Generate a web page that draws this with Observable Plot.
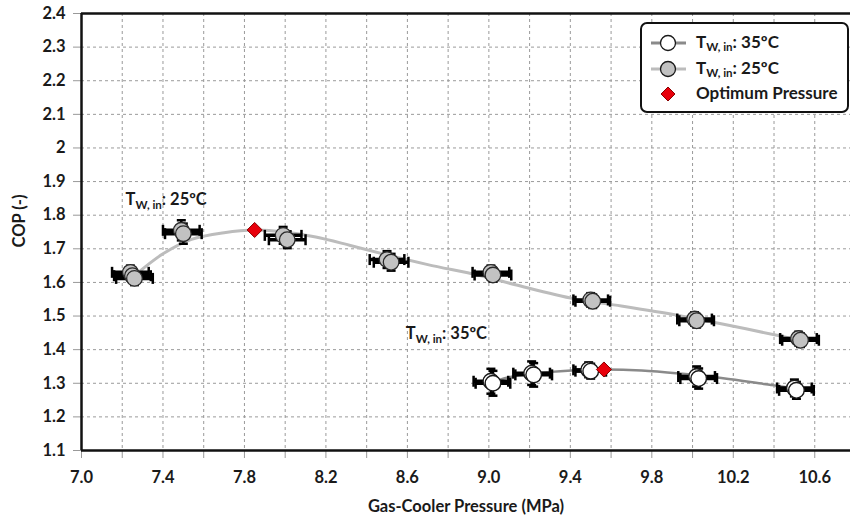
<!DOCTYPE html>
<html>
<head>
<meta charset="utf-8">
<script src="https://cdn.jsdelivr.net/npm/d3@7"></script>
<script src="https://cdn.jsdelivr.net/npm/@observablehq/plot@0.6"></script>
<style>
  html, body { margin: 0; padding: 0; background: #fff; }
  #wrap { position: relative; width: 850px; height: 524px; font-family: Lato, "Open Sans", sans-serif; }
  #legend { position: absolute; left: 640px; top: 22px; width: 205px; height: 87px; border: 2px solid #111; border-radius: 7px; background: #fff; }
  .row { position: absolute; left: 0; height: 24px; width: 205px; }
  .row svg { position: absolute; left: 8px; top: 0; }
  .row span { position: absolute; left: 54px; top: 0px; font-size: 17px; font-weight: 700; color: #1a1a1a; white-space: nowrap; }
  .row sub { font-size: 11.5px; vertical-align: -3px; line-height: 0; }
</style>
</head>
<body>
<div id="wrap">
  <div id="chart"></div>
  <div id="legend"></div>
</div>
<script>
// ---- Data ----
// T_W,in = 25 ºC measured points (overlapping repeats)
const p25x  = [7.24, 7.25, 7.26, 7.49, 7.50, 7.99, 8.01, 8.50, 8.52, 9.01, 9.02, 9.50, 9.51, 10.01, 10.02, 10.52, 10.53];
const p25y  = [1.630, 1.620, 1.612, 1.755, 1.745, 1.740, 1.727, 1.668, 1.660, 1.630, 1.622, 1.548, 1.544, 1.491, 1.486, 1.433, 1.428];
const p25ex = [0.09, 0.09, 0.09, 0.09, 0.09, 0.09, 0.09, 0.085, 0.085, 0.09, 0.09, 0.085, 0.085, 0.085, 0.085, 0.09, 0.09];
const p25ey = [0.02, 0.02, 0.02, 0.03, 0.03, 0.025, 0.025, 0.025, 0.025, 0.02, 0.02, 0.02, 0.02, 0.02, 0.02, 0.02, 0.02];

// T_W,in = 35 ºC measured points
const p35x  = [9.01, 9.02, 9.21, 9.22, 9.49, 9.50, 10.02, 10.03, 10.50, 10.51];
const p35y  = [1.306, 1.300, 1.330, 1.325, 1.340, 1.336, 1.320, 1.314, 1.286, 1.279];
const p35ex = [0.085, 0.085, 0.09, 0.09, 0.075, 0.075, 0.09, 0.09, 0.085, 0.085];
const p35ey = [0.037, 0.037, 0.035, 0.035, 0.022, 0.022, 0.03, 0.03, 0.025, 0.025];

// fitted trend curves
const c25x = [7.27, 7.40, 7.54, 7.70, 7.85, 8.00, 8.15, 8.32, 8.50, 8.70, 8.95, 9.13, 9.42, 9.65, 9.93, 10.14, 10.42, 10.55];
const c25y = [1.625, 1.685, 1.728, 1.748, 1.756, 1.750, 1.735, 1.710, 1.682, 1.653, 1.621, 1.593, 1.551, 1.530, 1.502, 1.477, 1.442, 1.425];
const c35x = [9.05, 9.10, 9.20, 9.35, 9.55, 9.75, 9.95, 10.15, 10.35, 10.50, 10.55];
const c35y = [1.310, 1.318, 1.328, 1.336, 1.341, 1.338, 1.328, 1.315, 1.298, 1.285, 1.279];

// optimum pressure points
const optX = [7.85, 9.565];
const optY = [1.756, 1.341];

// in-plot labels
const annX = [7.216, 8.592];
const annY = [1.847, 1.448];
const annText = ["T|W, in|: 25ºC", "T|W, in|: 35ºC"];

// axis ticks
const xGrid   = [7.0, 7.2, 7.4, 7.6, 7.8, 8.0, 8.2, 8.4, 8.6, 8.8, 9.0, 9.2, 9.4, 9.6, 9.8, 10.0, 10.2, 10.4, 10.6, 10.8];
const xLabels = [7.0, 7.4, 7.8, 8.2, 8.6, 9.0, 9.4, 9.8, 10.2, 10.6];
const yTicks  = [1.1, 1.2, 1.3, 1.4, 1.5, 1.6, 1.7, 1.8, 1.9, 2.0, 2.1, 2.2, 2.3, 2.4];

// ---- Build tables ----
const pts25 = p25x.map((x, i) => ({x, y: p25y[i], ex: p25ex[i], ey: p25ey[i]}));
const pts35 = p35x.map((x, i) => ({x, y: p35y[i], ex: p35ex[i], ey: p35ey[i]}));
const curve25 = c25x.map((x, i) => ({x, y: c25y[i]}));
const curve35 = c35x.map((x, i) => ({x, y: c35y[i]}));
const opt = optX.map((x, i) => ({x, y: optY[i]}));
const ann = annX.map((x, i) => ({x, y: annY[i], t: annText[i]}));

const vLine = { draw(ctx, size) { const r = Math.sqrt(size / Math.PI); ctx.moveTo(0, -r); ctx.lineTo(0, r); } };
const hLine = { draw(ctx, size) { const r = Math.sqrt(size / Math.PI); ctx.moveTo(-r, 0); ctx.lineTo(r, 0); } };

function errorMarks(data) {
  return [
    Plot.link(data, {x1: d => d.x - d.ex, x2: d => d.x + d.ex, y1: "y", y2: "y", stroke: "#000", strokeWidth: 3.5}),
    Plot.dot(data, {x: d => d.x - d.ex, y: "y", symbol: vLine, r: 5.5, stroke: "#000", strokeWidth: 2.5, fill: "none"}),
    Plot.dot(data, {x: d => d.x + d.ex, y: "y", symbol: vLine, r: 5.5, stroke: "#000", strokeWidth: 2.5, fill: "none"}),
    Plot.link(data, {x1: "x", x2: "x", y1: d => d.y - d.ey, y2: d => d.y + d.ey, stroke: "#000", strokeWidth: 2.5}),
    Plot.dot(data, {x: "x", y: d => d.y - d.ey, symbol: hLine, r: 4.5, stroke: "#000", strokeWidth: 2.5, fill: "none"}),
    Plot.dot(data, {x: "x", y: d => d.y + d.ey, symbol: hLine, r: 4.5, stroke: "#000", strokeWidth: 2.5, fill: "none"})
  ];
}

const chart = Plot.plot({
  width: 850,
  height: 524,
  marginLeft: 81,
  marginRight: 0,
  marginTop: 13,
  marginBottom: 74,
  style: {fontFamily: "Lato, 'Open Sans', sans-serif", fontSize: "16.5px", fontWeight: 700, color: "#1a1a1a", background: "#fff"},
  x: {domain: [7.0, 10.8], range: [81, 855]},
  y: {domain: [1.1, 2.4]},
  marks: [
    Plot.gridX(xGrid, {stroke: "#9a9a9a", strokeOpacity: 1, strokeDasharray: "3,3", strokeWidth: 1}),
    Plot.gridY(yTicks, {stroke: "#9a9a9a", strokeOpacity: 1, strokeDasharray: "3,3", strokeWidth: 1}),
    Plot.axisY(yTicks, {tickSize: 8, tickPadding: 8, stroke: "#999", tickFormat: d => d === 2 ? "2" : d.toFixed(1), label: null}),
    Plot.axisX(xGrid, {tickSize: 8, stroke: "#999", tickFormat: () => "", label: null}),
    Plot.axisX(xLabels, {tickSize: 0, tickPadding: 21, tickFormat: d => d.toFixed(1), label: null}),
    Plot.text(["COP (-)"], {frameAnchor: "left", textAnchor: "middle", dx: -62, dy: -11, rotate: -90, fontSize: 16.5, fontWeight: 700, fill: "#1a1a1a"}),
    Plot.text(["Gas-Cooler Pressure (MPa)"], {frameAnchor: "bottom", dy: 61, fontSize: 16.5, fontWeight: 700, fill: "#1a1a1a"}),
    Plot.ruleY([1.1, 2.4], {stroke: "#111", strokeWidth: 2.5}),
    Plot.ruleX([7.0], {stroke: "#111", strokeWidth: 2.5}),
    Plot.line(curve25, {x: "x", y: "y", curve: "catmull-rom", stroke: "#bcbcbc", strokeWidth: 3}),
    Plot.line(curve35, {x: "x", y: "y", curve: "catmull-rom", stroke: "#8a8a8a", strokeWidth: 2.5}),
    ...errorMarks(pts25),
    ...errorMarks(pts35),
    Plot.dot(pts25, {x: "x", y: "y", r: 7.8, fill: "#c2c2c2", stroke: "#2a2a2a", strokeWidth: 1.3}),
    Plot.dot(pts35, {x: "x", y: "y", r: 7.8, fill: "#fff", stroke: "#1a1a1a", strokeWidth: 1.4}),
    Plot.dot(opt, {x: "x", y: "y", symbol: "diamond2", r: 6.8, fill: "#e8000b", stroke: "#8a0000", strokeWidth: 1}),
    Plot.text(ann, {x: "x", y: "y", text: "t", textAnchor: "start", fontSize: 16.5, fontWeight: 700, fill: "#1a1a1a"})
  ]
});

// subscripts for the T_W,in labels
chart.querySelectorAll("text").forEach(t => {
  if (t.textContent.includes("|")) {
    const [a, b, c] = t.textContent.split("|");
    t.textContent = "";
    const ns = "http://www.w3.org/2000/svg";
    const s1 = document.createElementNS(ns, "tspan"); s1.textContent = a;
    const s2 = document.createElementNS(ns, "tspan"); s2.textContent = b; s2.setAttribute("font-size", "11.5"); s2.setAttribute("dy", "4");
    const s3 = document.createElementNS(ns, "tspan"); s3.textContent = c; s3.setAttribute("dy", "-4");
    t.append(s1, s2, s3);
  }
});
document.getElementById("chart").append(chart);

// legend
const legendItems = [
  {kind: "circle", fill: "#fff", line: "#8a8a8a", label: "T<sub>W, in</sub>: 35ºC"},
  {kind: "circle", fill: "#c2c2c2", line: "#bcbcbc", label: "T<sub>W, in</sub>: 25ºC"},
  {kind: "diamond", fill: "#e8000b", line: null, label: "Optimum Pressure"}
];
const legend = document.getElementById("legend");
legendItems.forEach((it, i) => {
  const row = document.createElement("div");
  row.className = "row";
  row.style.top = (7 + i * 25.5) + "px";
  let sym;
  if (it.kind === "circle") {
    sym = `<svg width="40" height="24"><line x1="1" y1="12" x2="36" y2="12" stroke="${it.line}" stroke-width="3"/><circle cx="18" cy="12" r="7.5" fill="${it.fill}" stroke="#1a1a1a" stroke-width="1.3"/></svg>`;
  } else {
    sym = `<svg width="40" height="24"><path d="M18 5 L25 12 L18 19 L11 12 Z" fill="${it.fill}" stroke="#8a0000" stroke-width="1"/></svg>`;
  }
  row.innerHTML = sym + `<span>${it.label}</span>`;
  legend.append(row);
});
</script>
</body>
</html>
